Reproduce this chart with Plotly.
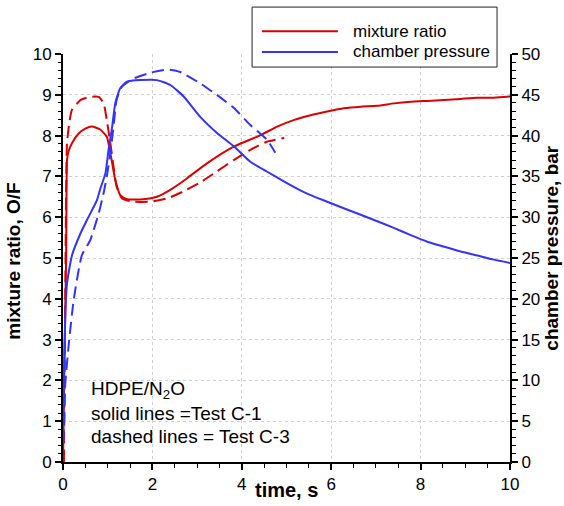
import plotly.graph_objects as go

# ---- data ----
# mixture ratio O/F, Test C-1 (solid)
mr_c1_t = [0.0, 0.03, 0.07, 0.09, 0.12, 0.2, 0.35, 0.5, 0.65, 0.83, 0.98, 1.06, 1.17, 1.28, 1.43,
           1.8, 2.1, 2.4, 2.77, 3.22, 3.82, 4.42, 4.79, 5.16, 5.54, 5.91, 6.28, 6.66, 7.03, 7.4,
           7.78, 8.15, 8.52, 8.9, 9.27, 9.64, 10.0]
mr_c1 = [0.0, 2.3, 5.0, 7.4, 7.6, 7.81, 8.05, 8.17, 8.22, 8.15, 7.97, 7.57, 6.91, 6.54, 6.44,
         6.44, 6.50, 6.67, 6.95, 7.32, 7.73, 8.01, 8.22, 8.38, 8.50, 8.59, 8.67, 8.71, 8.73, 8.79,
         8.83, 8.85, 8.87, 8.90, 8.93, 8.93, 8.96]

# mixture ratio O/F, Test C-3 (dashed)
mr_c3_t = [0.02, 0.05, 0.09, 0.15, 0.2, 0.39, 0.61, 0.8, 0.91, 0.98, 1.06, 1.13, 1.2, 1.32, 1.58,
           1.95, 2.33, 2.69, 3.07, 3.44, 3.82, 4.19, 4.56, 4.95]
mr_c3 = [0.0, 4.0, 7.82, 8.38, 8.63, 8.87, 8.95, 8.95, 8.79, 8.38, 7.81, 7.24, 6.75, 6.46, 6.38,
         6.38, 6.46, 6.63, 6.85, 7.12, 7.40, 7.65, 7.85, 7.94]

# chamber pressure (bar), Test C-1 (solid)
pc_c1_t = [0.0, 0.02, 0.05, 0.09, 0.2, 0.39, 0.54, 0.76, 0.83, 0.95, 1.02, 1.1, 1.17, 1.28, 1.43,
           1.73, 2.1, 2.4, 2.7, 3.07, 3.45, 3.82, 4.19, 4.56, 4.94, 5.31, 5.54, 5.91, 6.28, 6.66,
           7.03, 7.4, 7.78, 8.15, 8.52, 8.9, 9.27, 9.64, 10.0]
pc_c1 = [3.0, 10.0, 17.8, 21.9, 25.3, 28.0, 29.7, 32.1, 33.4, 35.4, 38.3, 41.1, 44.0, 45.8, 46.6,
         46.8, 46.8, 46.2, 44.8, 42.3, 40.3, 38.7, 36.8, 35.6, 34.4, 33.3, 32.7, 31.9, 31.1, 30.3,
         29.5, 28.7, 27.8, 27.0, 26.4, 25.8, 25.3, 24.8, 24.4]

# chamber pressure (bar), Test C-3 (dashed)
pc_c3_t = [0.01, 0.03, 0.05, 0.13, 0.24, 0.42, 0.61, 0.8, 0.91, 0.98, 1.06, 1.13, 1.2, 1.32, 1.58,
           1.95, 2.33, 2.62, 3.07, 3.44, 3.82, 4.19, 4.56, 4.75]
pc_c3 = [2.5, 5.5, 9.5, 14.5, 19.9, 25.3, 27.2, 30.5, 33.0, 35.0, 37.9, 41.1, 44.4, 46.0, 47.0,
         47.7, 48.1, 47.8, 46.4, 45.0, 43.4, 41.3, 39.5, 37.9]

legend_labels = ["mixture ratio", "chamber pressure"]
note_lines = ["HDPE/N<sub>2</sub>O", "solid lines =Test C-1", "dashed lines = Test C-3"]

RED = "#dd0000"
BLUE = "#3333ff"
FONT = "Liberation Sans, Arial, Helvetica, sans-serif"
DASH = "12px,6px"

fig = go.Figure()
fig.add_trace(go.Scatter(x=mr_c1_t, y=mr_c1, mode="lines", line=dict(color=RED, width=2, shape="spline", smoothing=0.5),
                         showlegend=False, yaxis="y"))
fig.add_trace(go.Scatter(x=mr_c3_t, y=mr_c3, mode="lines", line=dict(color=RED, width=2, dash=DASH, shape="spline", smoothing=0.5),
                         showlegend=False, yaxis="y"))
fig.add_trace(go.Scatter(x=pc_c1_t, y=pc_c1, mode="lines", line=dict(color=BLUE, width=2, shape="spline", smoothing=0.5),
                         showlegend=False, yaxis="y2"))
fig.add_trace(go.Scatter(x=pc_c3_t, y=pc_c3, mode="lines", line=dict(color=BLUE, width=2, dash=DASH, shape="spline", smoothing=0.5),
                         showlegend=False, yaxis="y2"))

tickfont = dict(family=FONT, size=17, color="black")
grid = dict(showgrid=True, gridcolor="#d0d0d0", griddash="dot", gridwidth=1)

fig.update_layout(
    width=564, height=506,
    margin=dict(l=63, r=54, t=54, b=44),
    paper_bgcolor="white", plot_bgcolor="white",
    font=dict(family=FONT, color="black"),
    xaxis=dict(range=[0, 10], dtick=2, ticks="outside", ticklen=6, tickwidth=1.5, tickcolor="black",
               showline=True, linewidth=2, linecolor="black", zeroline=False, tickfont=tickfont,
               minor=dict(dtick=0.5, ticks="outside", ticklen=4, tickcolor="black", tickwidth=1, showgrid=False),
               **grid),
    yaxis=dict(range=[0, 10], dtick=1, ticks="outside", ticklen=6, tickwidth=1.5, tickcolor="black",
               showline=True, linewidth=2, linecolor="black", zeroline=False, tickfont=tickfont,
               minor=dict(dtick=0.2, ticks="outside", ticklen=3.5, tickcolor="black", tickwidth=1, showgrid=False),
               **grid),
    yaxis2=dict(range=[0, 50], dtick=5, overlaying="y", side="right", anchor="x",
                ticks="outside", ticklen=6, tickwidth=1.5, tickcolor="black",
                showline=True, linewidth=2, linecolor="black", zeroline=False, showgrid=False, tickfont=tickfont,
                minor=dict(dtick=1, ticks="outside", ticklen=3.5, tickcolor="black", tickwidth=1, showgrid=False)),
)

# axis titles
title_font = dict(family=FONT, size=19, color="black")
fig.add_annotation(text="<b>mixture ratio, O/F</b>", xref="paper", yref="paper", x=-0.1096, y=0.491,
                   textangle=-90, showarrow=False, xanchor="center", yanchor="middle", font=title_font)
fig.add_annotation(text="<b>chamber pressure, bar</b>", xref="paper", yref="paper", x=1.094, y=0.523,
                   textangle=-90, showarrow=False, xanchor="center", yanchor="middle", font=title_font)
fig.add_annotation(text="<b>time, s</b>", xref="paper", yref="paper", x=0.5, y=-0.0686,
                   showarrow=False, xanchor="center", yanchor="middle",
                   font=dict(family=FONT, size=20, color="black"))

# note text
note_font = dict(family=FONT, size=19, color="black")
for txt, yy in zip(note_lines, [0.1765, 0.120, 0.0613]):
    fig.add_annotation(text=txt, xref="paper", yref="paper", x=0.0588, y=yy, showarrow=False,
                       xanchor="left", yanchor="middle", font=note_font)

# legend box (drawn manually for long line samples)
fig.add_shape(type="rect", xref="paper", yref="paper", x0=0.423, x1=0.971, y0=0.968, y1=1.115,
              line=dict(color="#222222", width=1), fillcolor="white", layer="above")
leg_font = dict(family=FONT, size=17, color="black")
for lab, col, yy in zip(legend_labels, [RED, BLUE], [1.056, 1.005]):
    fig.add_shape(type="line", xref="paper", yref="paper", x0=0.445, x1=0.615, y0=yy, y1=yy,
                  line=dict(color=col, width=2), layer="above")
    fig.add_annotation(text=lab, xref="paper", yref="paper", x=0.644, y=yy, showarrow=False,
                       xanchor="left", yanchor="middle", font=leg_font)

fig.write_html("out.html")
